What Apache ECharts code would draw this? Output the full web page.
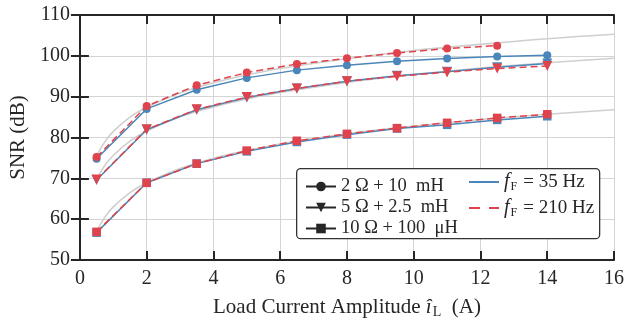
<!DOCTYPE html>
<html><head><meta charset="utf-8">
<script src="https://cdn.jsdelivr.net/npm/echarts@6/dist/echarts.min.js"></script>
<style>html,body{margin:0;padding:0;background:#fff}#c{width:627px;height:324px}</style>
</head><body><div id="c"></div>
<script>
const xVals = [0.5, 2, 3.5, 5, 6.5, 8, 9.5, 11, 12.5, 14];
const circ35 = [74.8, 87.0, 91.7, 94.6, 96.5, 97.7, 98.7, 99.35, 99.85, 100.15];
const circ210 = [75.2, 87.7, 92.8, 95.9, 98.0, 99.4, 100.7, 101.8, 102.5];
const tri35 = [69.6, 81.9, 86.8, 89.8, 92.0, 93.8, 95.1, 96.1, 97.2, 98.1];
const tri210 = [69.7, 82.0, 86.9, 89.9, 92.0, 93.8, 95.0, 96.0, 96.9, 97.5];
const sq35 = [56.7, 68.9, 73.6, 76.6, 78.9, 80.7, 82.2, 83.1, 84.3, 85.2];
const sq210 = [56.9, 68.9, 73.6, 76.8, 79.2, 80.9, 82.3, 83.6, 84.8, 85.7];
// light gray fit curves
const fitX = [0.5, 0.75, 1, 1.5, 2, 3, 4, 5, 6, 8, 10, 12, 14, 16];
const fitCirc = [75.5, 79.0, 81.5, 85.0, 87.4, 90.9, 93.4, 95.3, 96.9, 99.3, 101.3, 102.8, 104.2, 105.3];
const fitTri = [69.7, 73.2, 75.6, 79.1, 81.6, 85.1, 87.5, 89.4, 91.0, 93.5, 95.4, 97.0, 98.3, 99.4];
const fitSq = [57.0, 60.5, 63.0, 66.5, 68.9, 72.4, 74.9, 76.8, 78.4, 80.9, 82.8, 84.4, 85.7, 86.8];
const loadNames = ['2 Ω + 10  mH', '5 Ω + 2.5  mH', '10 Ω + 100  μH'];
const freqNames = ['fF35', 'fF210'];
const freqLabels = {fF35: '{i|f}{sub|F}{t|= 35 Hz}', fF210: '{i|f}{sub|F}{t|= 210 Hz}'};

const BLUE = '#4a86b9', RED = '#e0434b', GRAY = '#cfcfcf', DARK = '#262626';
const FONT = '"Liberation Serif", "DejaVu Serif", serif';

function pairs(xs, ys) { return ys.map((y, i) => [xs[i], y]); }
const symbols = [
  {symbol: 'circle', size: 8, rot: 0},
  {symbol: 'triangle', size: 10, rot: 180},
  {symbol: 'rect', size: 8.5, rot: 0}
];
const blues = [circ35, tri35, sq35];
const reds = [circ210, tri210, sq210];
const fits = [fitCirc, fitTri, fitSq];

const series = [];
fits.forEach(f => series.push({
  type: 'line', data: pairs(fitX, f), smooth: 0.4, showSymbol: false, silent: true,
  lineStyle: {color: GRAY, width: 1.6}, z: 1
}));
blues.forEach((d, k) => series.push({
  type: 'line', data: pairs(xVals, d), symbol: symbols[k].symbol, symbolSize: symbols[k].size,
  symbolRotate: symbols[k].rot, itemStyle: {color: BLUE}, lineStyle: {color: BLUE, width: 1.5}, z: 3
}));
reds.forEach((d, k) => series.push({
  type: 'line', data: pairs(xVals, d), symbol: symbols[k].symbol, symbolSize: symbols[k].size,
  symbolRotate: symbols[k].rot, itemStyle: {color: RED}, lineStyle: {color: RED, width: 1.5, type: [7, 4]}, z: 4
}));
// legend-only series
loadNames.forEach((n, k) => series.push({
  name: n, type: 'line', data: [], symbol: symbols[k].symbol, symbolSize: symbols[k].size,
  symbolRotate: symbols[k].rot, itemStyle: {color: DARK}, lineStyle: {color: DARK, width: 2}
}));
series.push({name: 'fF35', type: 'line', data: [], symbol: 'none', itemStyle: {color: BLUE}, lineStyle: {color: BLUE, width: 2}});
series.push({name: 'fF210', type: 'line', data: [], symbol: 'none', itemStyle: {color: RED}, lineStyle: {color: RED, width: 2, type: [11, 9]}});

const axisCommon = {
  axisLine: {show: true, lineStyle: {color: DARK, width: 2}},
  axisTick: {show: true, inside: true, length: 9, lineStyle: {color: DARK, width: 2}},
};
const option = {
  animation: false,
  grid: {left: 78, right: 12, top: 15, bottom: 61},
  xAxis: [
    Object.assign({}, axisCommon, {
      type: 'value', min: 0, max: 16, interval: 2, position: 'bottom',
      axisLabel: {color: DARK, fontFamily: FONT, fontSize: 20, margin: 9},
      splitLine: {show: true, lineStyle: {color: '#d4d4d4', width: 1}},
      name: 'Load Current Amplitude {i|î}{sub|L}{t|  (A)}', nameLocation: 'middle', nameGap: 36,
      nameTextStyle: {color: DARK, fontFamily: FONT, fontSize: 21,
        rich: {i: {fontFamily: FONT, fontSize: 21, fontStyle: 'italic', color: DARK},
               sub: {fontFamily: FONT, fontSize: 14, color: DARK, padding: [9, 0, 0, 1]},
               t: {fontFamily: FONT, fontSize: 21, color: DARK}}}
    }),
    Object.assign({}, axisCommon, {
      type: 'value', min: 0, max: 16, interval: 2, position: 'top',
      axisLabel: {show: false}, splitLine: {show: false}
    })
  ],
  yAxis: [
    Object.assign({}, axisCommon, {
      type: 'value', min: 50, max: 110, interval: 10, position: 'left',
      axisLabel: {color: DARK, fontFamily: FONT, fontSize: 20, margin: 10},
      splitLine: {show: true, lineStyle: {color: '#d4d4d4', width: 1}},
      name: 'SNR (dB)', nameLocation: 'middle', nameGap: 48,
      nameTextStyle: {color: DARK, fontFamily: FONT, fontSize: 21}
    }),
    Object.assign({}, axisCommon, {
      type: 'value', min: 50, max: 110, interval: 10, position: 'right',
      axisLabel: {show: false}, splitLine: {show: false}
    })
  ],
  graphic: [{
    type: 'rect', left: 296, top: 168, z: 50,
    shape: {width: 303, height: 70, r: 4},
    style: {fill: '#fff', stroke: '#333', lineWidth: 1.3}
  }],
  legend: [
    {
      data: loadNames, orient: 'vertical', left: 300, top: 172, z: 60,
      itemWidth: 30, itemHeight: 12, itemGap: 2, selectedMode: false,
      textStyle: {color: DARK, fontFamily: FONT, fontSize: 18.5, lineHeight: 17}
    },
    {
      data: freqNames.map(n => ({name: n, itemStyle: {color: 'rgba(0,0,0,0)', borderWidth: 0, opacity: 0}})),
      orient: 'vertical', left: 463, top: 167, z: 60,
      itemWidth: 30, itemHeight: 12, itemGap: 5, selectedMode: false,
      formatter: n => freqLabels[n],
      textStyle: {color: DARK, fontFamily: FONT, fontSize: 19,
        rich: {i: {fontFamily: FONT, fontSize: 20, fontStyle: 'italic', color: DARK},
               sub: {fontFamily: FONT, fontSize: 12, color: DARK, padding: [10, 6, 0, 1]},
               t: {fontFamily: FONT, fontSize: 19, color: DARK}}}
    }
  ],
  series: series
};
const chart = echarts.init(document.getElementById('c'), null, {renderer: 'canvas'});
chart.setOption(option);
</script></body></html>
